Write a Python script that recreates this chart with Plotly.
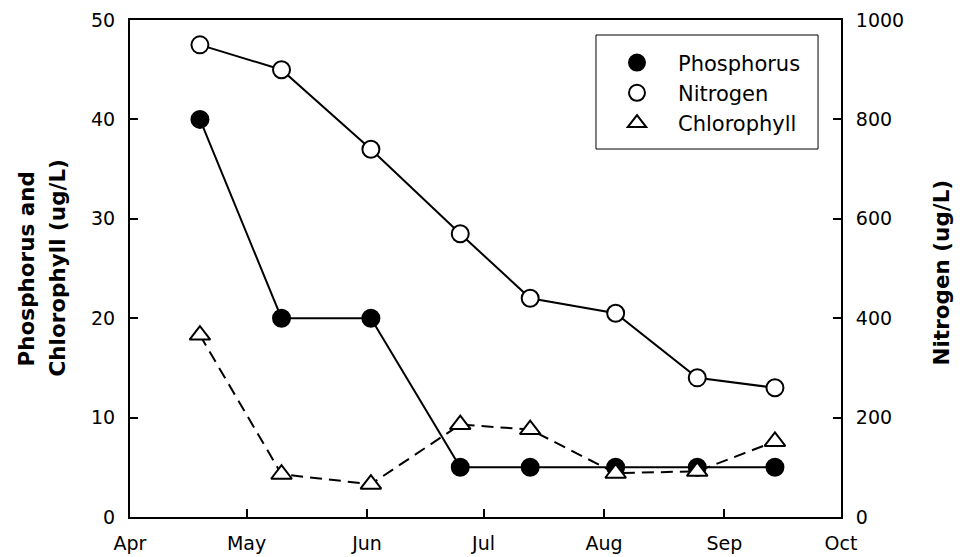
import plotly.graph_objects as go

dates = ["2000-04-19", "2000-05-10", "2000-06-02", "2000-06-25",
         "2000-07-13", "2000-08-04", "2000-08-25", "2000-09-14"]
phosphorus = [40, 20, 20, 5, 5, 5, 5, 5]
nitrogen = [950, 900, 740, 570, 440, 410, 280, 260]
chlorophyll = [18.3, 4.3, 3.3, 9.3, 8.8, 4.4, 4.6, 7.6]
x_ticks = ["2000-04-01", "2000-05-01", "2000-06-01", "2000-07-01",
           "2000-08-01", "2000-09-01", "2000-10-01"]
x_labels = ["Apr", "May", "Jun", "Jul", "Aug", "Sep", "Oct"]

FONT = "DejaVu Sans, Verdana, sans-serif"

fig = go.Figure()
fig.add_trace(go.Scatter(x=dates, y=phosphorus, mode="lines+markers", name="Phosphorus",
                         line=dict(color="black", width=2),
                         marker=dict(symbol="circle", size=17, color="black",
                                     line=dict(color="black", width=2)),
                         showlegend=False))
fig.add_trace(go.Scatter(x=dates, y=chlorophyll, mode="lines+markers", name="Chlorophyll",
                         line=dict(color="black", width=2, dash="12px,7px"),
                         marker=dict(symbol="triangle-up", size=18, color="white",
                                     line=dict(color="black", width=2)),
                         showlegend=False))
fig.add_trace(go.Scatter(x=dates, y=nitrogen, mode="lines+markers", name="Nitrogen",
                         yaxis="y2",
                         line=dict(color="black", width=2),
                         marker=dict(symbol="circle", size=17, color="white",
                                     line=dict(color="black", width=2)),
                         showlegend=False))

# legend entries (markers only)
for nm, sym, fill in [("Phosphorus", "circle", "black"),
                      ("Nitrogen", "circle", "white"),
                      ("Chlorophyll", "triangle-up", "white")]:
    fig.add_trace(go.Scatter(x=[None], y=[None], mode="markers", name=nm,
                             legendgroup=nm,
                             marker=dict(symbol=sym, size=16, color=fill,
                                         line=dict(color="black", width=2))))

# legend frame
fig.add_shape(type="rect", xref="paper", yref="paper",
              x0=0.6554, x1=0.9677, y0=0.7404, y1=0.9698,
              line=dict(color="black", width=1), fillcolor="rgba(0,0,0,0)")

fig.update_layout(
    width=954, height=549,
    margin=dict(l=122, r=121, t=12, b=40),
    paper_bgcolor="white", plot_bgcolor="white",
    font=dict(family=FONT, size=19, color="black"),
    xaxis=dict(type="date", range=["2000-04-01", "2000-10-01"],
               tickvals=x_ticks, ticktext=x_labels,
               ticks="inside", ticklen=8, tickwidth=2, tickcolor="black",
               showline=True, linecolor="black", linewidth=2, mirror=True,
               showgrid=False, zeroline=False, ticklabelstandoff=8,
               automargin=False, tickfont=dict(size=19)),
    yaxis=dict(range=[0, 50], dtick=10, ticks="inside", ticklen=8, tickwidth=2,
               tickcolor="black", showline=True, linecolor="black", linewidth=2,
               showgrid=False, zeroline=False, tickfont=dict(size=19),
               automargin=False, ticklabelstandoff=9),
    yaxis2=dict(range=[0, 1000], dtick=200, overlaying="y", side="right",
                ticks="inside", ticklen=8, tickwidth=2, tickcolor="black",
                showline=True, linecolor="black", linewidth=2,
                showgrid=False, zeroline=False, tickfont=dict(size=19),
                automargin=False, ticklabelstandoff=9),
    legend=dict(x=0.6554, y=0.955, xanchor="left", yanchor="top",
                borderwidth=0, bgcolor="rgba(0,0,0,0)",
                font=dict(size=21), itemsizing="trace", itemwidth=72,
                tracegroupgap=0),
    annotations=[
        dict(text="<b>Phosphorus and</b>", xref="paper", yref="paper", x=0, y=0.5,
             xshift=-104, textangle=-90, showarrow=False, xanchor="center",
             yanchor="middle", font=dict(size=21.5)),
        dict(text="<b>Chlorophyll (ug/L)</b>", xref="paper", yref="paper", x=0, y=0.5,
             xshift=-73, textangle=-90, showarrow=False, xanchor="center",
             yanchor="middle", font=dict(size=21.5)),
        dict(text="<b>Nitrogen (ug/L)</b>", xref="paper", yref="paper", x=1, y=0.5,
             xshift=100, yshift=-4, textangle=-90, showarrow=False, xanchor="center",
             yanchor="middle", font=dict(size=21.5)),
    ],
)

fig.write_html("out.html")
